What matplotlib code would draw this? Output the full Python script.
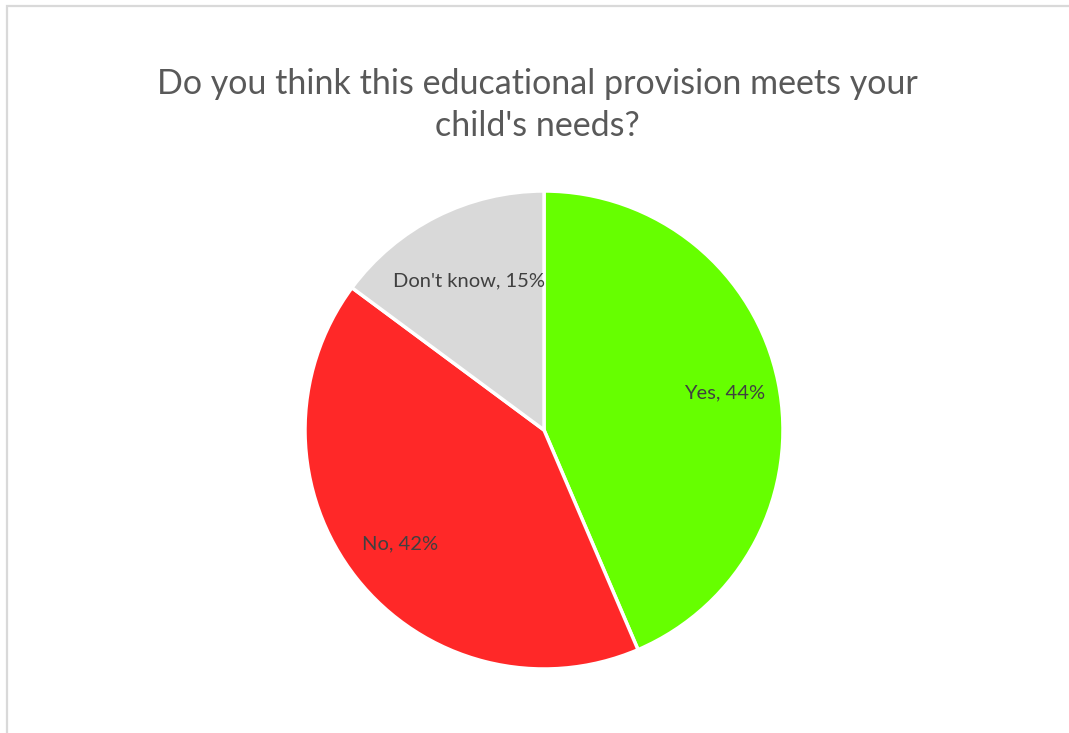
import matplotlib
matplotlib.use("Agg")
import matplotlib.pyplot as plt
from matplotlib.patches import Rectangle

plt.rcParams['font.family'] = ['Lato', 'DejaVu Sans']

categories = ["Yes", "No", "Don't know"]
percents = [44, 42, 15]
colors = ["#66ff00", "#ff2828", "#d9d9d9"]
label_dist = [0.77, 0.77, 0.70]
title = "Do you think this educational provision meets your\nchild's needs?"

fig = plt.figure(figsize=(10.69, 7.33), dpi=100)

# light chart-area border, open to the right and bottom
fig.add_artist(Rectangle((6.5 / 1069, -0.1), 1.2, 1.1 - 6.5 / 733,
                         transform=fig.transFigure, fill=False,
                         edgecolor="#d9d9d9", lw=1.6))

fig.text(537 / 1069, 1 - 105 / 733, title, ha="center", va="center",
         fontsize=24.5, color="#595959", linespacing=1.4)

ax = fig.add_axes([305 / 1069, 64 / 733, 478 / 1069, 478 / 733])
labels = [f"{c}, {p}%" for c, p in zip(categories, percents)]
wedges, texts = ax.pie(percents, labels=labels, colors=colors,
                       startangle=90, counterclock=False,
                       labeldistance=1.0,
                       wedgeprops=dict(edgecolor="white", linewidth=2.5))
for t, d in zip(texts, label_dist):
    x, y = t.get_position()
    t.set_position((x * d, y * d))
    t.set_ha("center")
    t.set_va("center")
    t.set_fontsize(14.5)
    t.set_color("#404040")
ax.set_xlim(-1, 1)
ax.set_ylim(-1, 1)
ax.set_aspect("equal")
ax.axis("off")

fig.savefig("out.png", dpi=100)
